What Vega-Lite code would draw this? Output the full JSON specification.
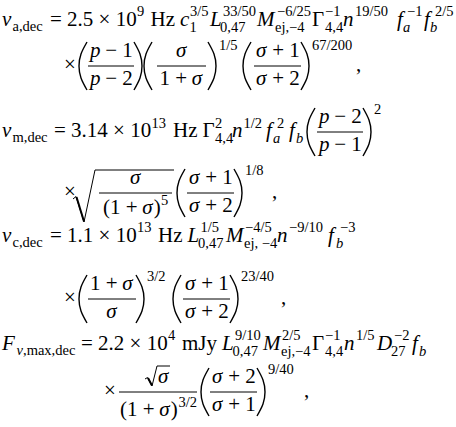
{
  "$schema": "https://vega.github.io/schema/vega-lite/v6.json",
  "width": 456,
  "height": 427,
  "autosize": {"type": "fit", "contains": "padding"},
  "padding": 0,
  "background": "white",
  "config": {"view": {"stroke": null}, "font": "Liberation Serif"},
  "datasets": {
    "mr": [
      {"x": 50, "y": 26, "t": "= 2.5 × 10"}, {"x": 150.5, "y": 26, "t": "Hz"}, {"x": 312, "y": 26, "t": "Γ"},
      {"x": 64, "y": 71, "t": "×"}, {"x": 105.2, "y": 56.8, "t": "− 1"}, {"x": 105.2, "y": 85.4, "t": "− 2"},
      {"x": 159.6, "y": 85.4, "t": "1 +"}, {"x": 272.2, "y": 56.8, "t": "+ 1"}, {"x": 272.2, "y": 85.4, "t": "+ 2"},
      {"x": 356, "y": 71, "t": ","},
      {"x": 54, "y": 137, "t": "= 3.14 × 10"}, {"x": 173, "y": 137, "t": "Hz"}, {"x": 202.5, "y": 137, "t": "Γ"},
      {"x": 334.2, "y": 122.8, "t": "− 2"}, {"x": 334.2, "y": 151.4, "t": "− 1"},
      {"x": 64, "y": 198, "t": "×"}, {"x": 103, "y": 214, "t": "(1 +"}, {"x": 153.7, "y": 214, "t": ")"},
      {"x": 205.2, "y": 183.8, "t": "+ 1"}, {"x": 205.2, "y": 212.4, "t": "+ 2"}, {"x": 272, "y": 198, "t": ","},
      {"x": 50, "y": 242, "t": "= 1.1 × 10"}, {"x": 158, "y": 242, "t": "Hz"},
      {"x": 64, "y": 304, "t": "×"}, {"x": 90, "y": 289.8, "t": "1 +"},
      {"x": 201.2, "y": 289.8, "t": "+ 1"}, {"x": 201.2, "y": 318.4, "t": "+ 2"}, {"x": 281, "y": 304, "t": ","},
      {"x": 81, "y": 350, "t": "= 2.2 × 10"}, {"x": 182, "y": 350, "t": "mJy"}, {"x": 312, "y": 350, "t": "Γ"},
      {"x": 104, "y": 397, "t": "×"}, {"x": 120, "y": 416, "t": "(1 +"}, {"x": 170.7, "y": 416, "t": ")"},
      {"x": 228.2, "y": 382.8, "t": "+ 2"}, {"x": 228.2, "y": 411.4, "t": "+ 1"}, {"x": 304, "y": 397, "t": ","}
    ],
    "mi": [
      {"x": 2, "y": 26, "t": "ν"}, {"x": 180, "y": 26, "t": "c"}, {"x": 210, "y": 26, "t": "L"}, {"x": 257, "y": 26, "t": "M"},
      {"x": 343, "y": 26, "t": "n"}, {"x": 397, "y": 26, "t": "f"}, {"x": 424, "y": 26, "t": "f"},
      {"x": 90, "y": 56.8, "t": "p"}, {"x": 90, "y": 85.4, "t": "p"}, {"x": 176, "y": 56.8, "t": "σ"},
      {"x": 191.8, "y": 85.4, "t": "σ"}, {"x": 256, "y": 56.8, "t": "σ"}, {"x": 256, "y": 85.4, "t": "σ"},
      {"x": 2, "y": 137, "t": "ν"}, {"x": 232, "y": 137, "t": "n"}, {"x": 266, "y": 137, "t": "f"}, {"x": 289, "y": 137, "t": "f"},
      {"x": 319, "y": 122.8, "t": "p"}, {"x": 319, "y": 151.4, "t": "p"},
      {"x": 130, "y": 183.8, "t": "σ"}, {"x": 142.2, "y": 214, "t": "σ"}, {"x": 189, "y": 183.8, "t": "σ"}, {"x": 189, "y": 212.4, "t": "σ"},
      {"x": 2, "y": 242, "t": "ν"}, {"x": 187.5, "y": 242, "t": "L"}, {"x": 226, "y": 242, "t": "M"}, {"x": 277, "y": 242, "t": "n"}, {"x": 328, "y": 242, "t": "f"},
      {"x": 122.3, "y": 289.8, "t": "σ"}, {"x": 106.3, "y": 318.4, "t": "σ"}, {"x": 185, "y": 289.8, "t": "σ"}, {"x": 185, "y": 318.4, "t": "σ"},
      {"x": 2, "y": 350, "t": "F"}, {"x": 222, "y": 350, "t": "L"}, {"x": 263, "y": 350, "t": "M"}, {"x": 344, "y": 350, "t": "n"},
      {"x": 377, "y": 350, "t": "D"}, {"x": 412, "y": 350, "t": "f"},
      {"x": 158, "y": 382.8, "t": "σ"}, {"x": 159.2, "y": 416, "t": "σ"}, {"x": 212, "y": 382.8, "t": "σ"}, {"x": 212, "y": 411.4, "t": "σ"}
    ],
    "sr": [
      {"x": 12.5, "y": 31, "t": "a,dec"}, {"x": 137, "y": 16, "t": "9"}, {"x": 189.5, "y": 32, "t": "1"}, {"x": 190, "y": 16, "t": "3/5"},
      {"x": 223, "y": 16, "t": "33/50"}, {"x": 220, "y": 32, "t": "0,47"}, {"x": 277, "y": 16, "t": "−6/25"}, {"x": 275, "y": 32, "t": "ej,−4"},
      {"x": 325, "y": 16, "t": "−1"}, {"x": 325, "y": 32, "t": "4,4"}, {"x": 355, "y": 16, "t": "19/50"}, {"x": 407, "y": 16, "t": "−1"},
      {"x": 435, "y": 16, "t": "2/5"},
      {"x": 219, "y": 50, "t": "1/5"}, {"x": 312, "y": 50, "t": "67/200"},
      {"x": 12.5, "y": 142, "t": "m,dec"}, {"x": 151.5, "y": 127.5, "t": "13"}, {"x": 215, "y": 127.5, "t": "2"}, {"x": 215, "y": 143, "t": "4,4"},
      {"x": 243.5, "y": 127.5, "t": "1/2"}, {"x": 277, "y": 127.5, "t": "2"}, {"x": 374, "y": 114, "t": "2"},
      {"x": 161, "y": 205, "t": "5"}, {"x": 245, "y": 175, "t": "1/8"},
      {"x": 12.5, "y": 247, "t": "c,dec"}, {"x": 137, "y": 232, "t": "13"}, {"x": 200.5, "y": 232, "t": "1/5"}, {"x": 198, "y": 248, "t": "0,47"},
      {"x": 245, "y": 232, "t": "−4/5"}, {"x": 244, "y": 248, "t": "ej, −4"}, {"x": 289, "y": 232, "t": "−9/10"}, {"x": 340, "y": 232, "t": "−3"},
      {"x": 147, "y": 281, "t": "3/2"}, {"x": 241, "y": 281, "t": "23/40"},
      {"x": 23, "y": 355, "t": ",max,dec"}, {"x": 168, "y": 340, "t": "4"}, {"x": 235, "y": 340, "t": "9/10"}, {"x": 232.5, "y": 356, "t": "0,47"},
      {"x": 282, "y": 340, "t": "2/5"}, {"x": 281, "y": 356, "t": "ej,−4"}, {"x": 325, "y": 340, "t": "−1"}, {"x": 325, "y": 356, "t": "4,4"},
      {"x": 356, "y": 340, "t": "1/5"}, {"x": 394, "y": 340, "t": "−2"}, {"x": 391, "y": 356, "t": "27"},
      {"x": 178.5, "y": 407, "t": "3/2"}, {"x": 268, "y": 374, "t": "9/40"}
    ],
    "si": [
      {"x": 403, "y": 32, "t": "a"}, {"x": 430, "y": 32, "t": "b"},
      {"x": 273, "y": 143, "t": "a"}, {"x": 296, "y": 143, "t": "b"},
      {"x": 336, "y": 248, "t": "b"},
      {"x": 16.5, "y": 355, "t": "ν"}, {"x": 419, "y": 356, "t": "b"}
    ],
    "bars": [
      {"x": 88, "x2": 134, "y": 66}, {"x": 157, "x2": 206, "y": 66}, {"x": 254, "x2": 301, "y": 66},
      {"x": 317, "x2": 363, "y": 132},
      {"x": 99, "x2": 172, "y": 193}, {"x": 187, "x2": 234, "y": 193},
      {"x": 88, "x2": 136, "y": 299}, {"x": 183, "x2": 230, "y": 299},
      {"x": 119, "x2": 197, "y": 392}, {"x": 210, "x2": 257, "y": 392}
    ],
    "parens": [
      {"id": "a1", "k": 0, "x": 87, "y": 42}, {"id": "a1", "k": 1, "x": 81, "y": 54}, {"id": "a1", "k": 2, "x": 79, "y": 66}, {"id": "a1", "k": 3, "x": 81, "y": 78}, {"id": "a1", "k": 4, "x": 87, "y": 90},
      {"id": "a2", "k": 0, "x": 134, "y": 42}, {"id": "a2", "k": 1, "x": 140, "y": 54}, {"id": "a2", "k": 2, "x": 142, "y": 66}, {"id": "a2", "k": 3, "x": 140, "y": 78}, {"id": "a2", "k": 4, "x": 134, "y": 90},
      {"id": "a3", "k": 0, "x": 152, "y": 42}, {"id": "a3", "k": 1, "x": 146, "y": 54}, {"id": "a3", "k": 2, "x": 144, "y": 66}, {"id": "a3", "k": 3, "x": 146, "y": 78}, {"id": "a3", "k": 4, "x": 152, "y": 90},
      {"id": "a4", "k": 0, "x": 208, "y": 42}, {"id": "a4", "k": 1, "x": 214, "y": 54}, {"id": "a4", "k": 2, "x": 216, "y": 66}, {"id": "a4", "k": 3, "x": 214, "y": 78}, {"id": "a4", "k": 4, "x": 208, "y": 90},
      {"id": "a5", "k": 0, "x": 251, "y": 42}, {"id": "a5", "k": 1, "x": 245, "y": 54}, {"id": "a5", "k": 2, "x": 243, "y": 66}, {"id": "a5", "k": 3, "x": 245, "y": 78}, {"id": "a5", "k": 4, "x": 251, "y": 90},
      {"id": "a6", "k": 0, "x": 301, "y": 42}, {"id": "a6", "k": 1, "x": 307, "y": 54}, {"id": "a6", "k": 2, "x": 309, "y": 66}, {"id": "a6", "k": 3, "x": 307, "y": 78}, {"id": "a6", "k": 4, "x": 301, "y": 90},
      {"id": "b1", "k": 0, "x": 315, "y": 108}, {"id": "b1", "k": 1, "x": 309, "y": 120}, {"id": "b1", "k": 2, "x": 307, "y": 132}, {"id": "b1", "k": 3, "x": 309, "y": 144}, {"id": "b1", "k": 4, "x": 315, "y": 156},
      {"id": "b2", "k": 0, "x": 363, "y": 108}, {"id": "b2", "k": 1, "x": 369, "y": 120}, {"id": "b2", "k": 2, "x": 371, "y": 132}, {"id": "b2", "k": 3, "x": 369, "y": 144}, {"id": "b2", "k": 4, "x": 363, "y": 156},
      {"id": "c1", "k": 0, "x": 185, "y": 169}, {"id": "c1", "k": 1, "x": 179, "y": 181}, {"id": "c1", "k": 2, "x": 177, "y": 193}, {"id": "c1", "k": 3, "x": 179, "y": 205}, {"id": "c1", "k": 4, "x": 185, "y": 217},
      {"id": "c2", "k": 0, "x": 234, "y": 169}, {"id": "c2", "k": 1, "x": 240, "y": 181}, {"id": "c2", "k": 2, "x": 242, "y": 193}, {"id": "c2", "k": 3, "x": 240, "y": 205}, {"id": "c2", "k": 4, "x": 234, "y": 217},
      {"id": "d1", "k": 0, "x": 87, "y": 275}, {"id": "d1", "k": 1, "x": 81, "y": 287}, {"id": "d1", "k": 2, "x": 79, "y": 299}, {"id": "d1", "k": 3, "x": 81, "y": 311}, {"id": "d1", "k": 4, "x": 87, "y": 323},
      {"id": "d2", "k": 0, "x": 136, "y": 275}, {"id": "d2", "k": 1, "x": 142, "y": 287}, {"id": "d2", "k": 2, "x": 144, "y": 299}, {"id": "d2", "k": 3, "x": 142, "y": 311}, {"id": "d2", "k": 4, "x": 136, "y": 323},
      {"id": "d3", "k": 0, "x": 181, "y": 275}, {"id": "d3", "k": 1, "x": 175, "y": 287}, {"id": "d3", "k": 2, "x": 173, "y": 299}, {"id": "d3", "k": 3, "x": 175, "y": 311}, {"id": "d3", "k": 4, "x": 181, "y": 323},
      {"id": "d4", "k": 0, "x": 230, "y": 275}, {"id": "d4", "k": 1, "x": 236, "y": 287}, {"id": "d4", "k": 2, "x": 238, "y": 299}, {"id": "d4", "k": 3, "x": 236, "y": 311}, {"id": "d4", "k": 4, "x": 230, "y": 323},
      {"id": "e1", "k": 0, "x": 209, "y": 368}, {"id": "e1", "k": 1, "x": 203, "y": 380}, {"id": "e1", "k": 2, "x": 201, "y": 392}, {"id": "e1", "k": 3, "x": 203, "y": 404}, {"id": "e1", "k": 4, "x": 209, "y": 416},
      {"id": "e2", "k": 0, "x": 257, "y": 368}, {"id": "e2", "k": 1, "x": 263, "y": 380}, {"id": "e2", "k": 2, "x": 265, "y": 392}, {"id": "e2", "k": 3, "x": 263, "y": 404}, {"id": "e2", "k": 4, "x": 257, "y": 416}
    ],
    "radical": [
      {"id": "r1", "k": 0, "x": 73, "y": 199}, {"id": "r1", "k": 1, "x": 76, "y": 196.5}, {"id": "r1", "k": 2, "x": 84, "y": 222}, {"id": "r1", "k": 3, "x": 95, "y": 170}, {"id": "r1", "k": 4, "x": 174, "y": 170},
      {"id": "r2", "k": 0, "x": 145, "y": 379}, {"id": "r2", "k": 1, "x": 147.5, "y": 377.5}, {"id": "r2", "k": 2, "x": 152, "y": 386}, {"id": "r2", "k": 3, "x": 157, "y": 366}, {"id": "r2", "k": 4, "x": 170, "y": 366}
    ],
    "radthick": [
      {"id": "r1", "k": 0, "x": 76.5, "y": 197}, {"id": "r1", "k": 1, "x": 84, "y": 221.5},
      {"id": "r2", "k": 0, "x": 148, "y": 378}, {"id": "r2", "k": 1, "x": 152, "y": 385.5}
    ]
  },
  "encoding": {
    "x": {"field": "x", "type": "quantitative", "scale": {"domain": [0, 456], "nice": false, "zero": false}, "axis": null},
    "y": {"field": "y", "type": "quantitative", "scale": {"domain": [0, 427], "nice": false, "zero": false, "reverse": true}, "axis": null}
  },
  "layer": [
    {
      "data": {"name": "bars"},
      "mark": {"type": "rule", "color": "black", "strokeWidth": 1},
      "encoding": {"x2": {"field": "x2"}}
    },
    {
      "data": {"name": "parens"},
      "mark": {"type": "line", "color": "black", "strokeWidth": 1.4, "interpolate": "natural"},
      "encoding": {"detail": {"field": "id"}, "order": {"field": "k", "type": "quantitative"}}
    },
    {
      "data": {"name": "radical"},
      "mark": {"type": "line", "color": "black", "strokeWidth": 1},
      "encoding": {"detail": {"field": "id"}, "order": {"field": "k", "type": "quantitative"}}
    },
    {
      "data": {"name": "radthick"},
      "mark": {"type": "line", "color": "black", "strokeWidth": 2},
      "encoding": {"detail": {"field": "id"}, "order": {"field": "k", "type": "quantitative"}}
    },
    {
      "data": {"name": "mr"},
      "mark": {"type": "text", "font": "Liberation Serif", "fontSize": 21, "align": "left", "baseline": "alphabetic", "color": "black"},
      "encoding": {"text": {"field": "t"}}
    },
    {
      "data": {"name": "mi"},
      "mark": {"type": "text", "font": "Liberation Serif", "fontStyle": "italic", "fontSize": 21, "align": "left", "baseline": "alphabetic", "color": "black"},
      "encoding": {"text": {"field": "t"}}
    },
    {
      "data": {"name": "sr"},
      "mark": {"type": "text", "font": "Liberation Serif", "fontSize": 14.5, "align": "left", "baseline": "alphabetic", "color": "black"},
      "encoding": {"text": {"field": "t"}}
    },
    {
      "data": {"name": "si"},
      "mark": {"type": "text", "font": "Liberation Serif", "fontStyle": "italic", "fontSize": 14.5, "align": "left", "baseline": "alphabetic", "color": "black"},
      "encoding": {"text": {"field": "t"}}
    }
  ]
}
